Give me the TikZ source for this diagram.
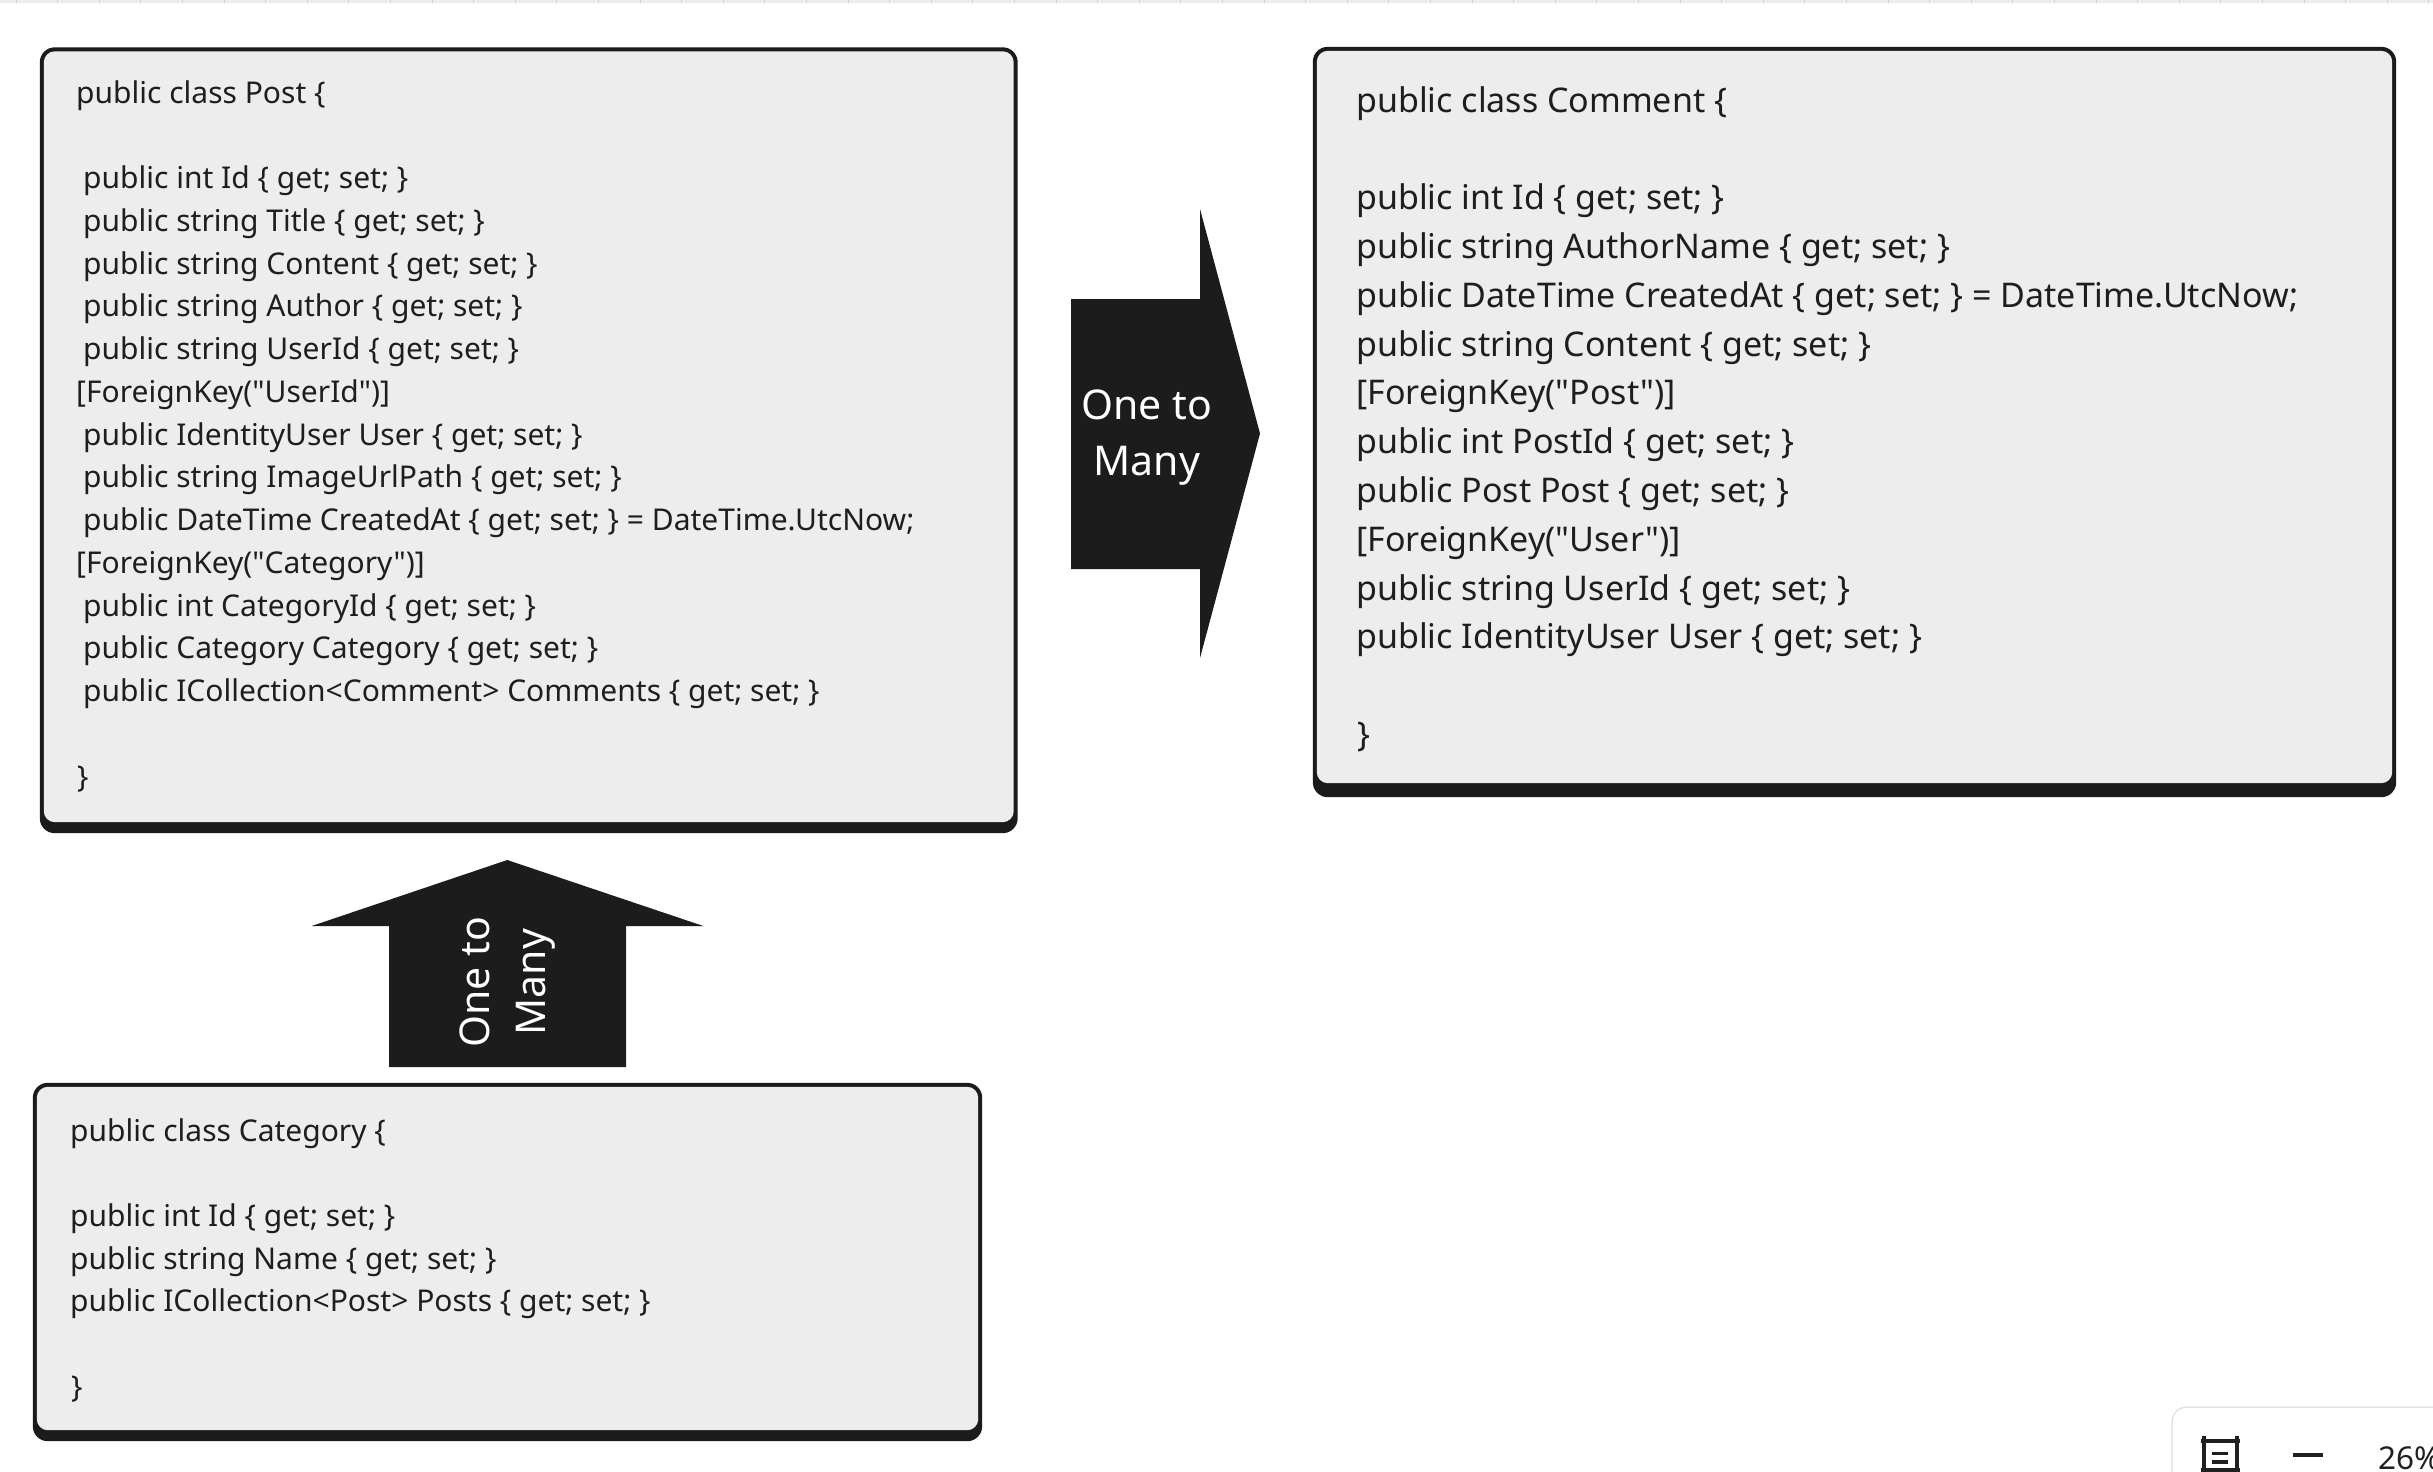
\documentclass[tikz,border=0pt]{standalone}
\usepackage{fontspec}
\setmainfont{Noto Sans}[Ligatures=TeXOff]
\definecolor{boxfill}{HTML}{EDEDED}
\definecolor{boxborder}{HTML}{1B1B1B}
\definecolor{arrowfill}{HTML}{1C1C1C}
\definecolor{codetext}{HTML}{1E1E1E}
\definecolor{rulerfill}{HTML}{EEEEEE}
\definecolor{rulertick}{HTML}{D2D2D2}
\definecolor{panelborder}{HTML}{E4E4E4}
\definecolor{icon}{HTML}{202020}
\newcommand\dq{\char34\relax}
\tikzset{
  boxnode/.style={shape=rectangle, draw=none, inner sep=0pt},
  code/.style={anchor=base west, inner sep=0pt, text=codetext},
  postline/.style={code, font=\fontsize{30}{36}\selectfont},
  commentline/.style={code, font=\fontsize{34}{40}\selectfont},
  catline/.style={code, font=\fontsize{30}{36}\selectfont},
  arrowlabel/.style={text=white, align=center, inner sep=0pt, font=\fontsize{41}{56}\selectfont},
  arrowshape/.style={fill=arrowfill, draw=none},
  iconline/.style={draw=icon, line width=3.8pt},
}
\newcommand\classbox[2]{% name, bottom shadow thickness
  \fill[boxborder, rounded corners=15pt] (#1.north west) rectangle (#1.south east);
  \fill[boxfill, rounded corners=11pt] ([xshift=4pt,yshift=-4pt]#1.north west) rectangle ([xshift=-4pt,yshift=#2]#1.south east);
}
\begin{document}
\begin{tikzpicture}[x=1pt,y=-1pt]
\useasboundingbox (0,0) rectangle (2433,1472);
\clip (0,0) rectangle (2433,1472);
\fill[white] (0,0) rectangle (2433,1472);

% top ruler
\fill[rulerfill] (0,0) rectangle (2433,3.5);
\foreach \i in {0,...,58} {
  \draw[rulertick, line width=1pt] ({16.1+41.6*\i},0) -- ({16.1+41.6*\i},3.5);
}

% class boxes
\node[boxnode, minimum width=977.5pt, minimum height=785.5pt] (post) at (528.75,440.25) {};
\node[boxnode, minimum width=1083pt, minimum height=750pt] (comment) at (1854.5,422) {};
\node[boxnode, minimum width=949pt, minimum height=358pt] (category) at (507.5,1262) {};
\classbox{post}{11pt}
\classbox{comment}{14pt}
\classbox{category}{11pt}

% Post text
\def\pb{103}\def\ps{42.75}
\node[postline] (p0) at (76,{\pb+0*\ps}) {public class Post \{};
\node[postline] (p2) at (83,{\pb+2*\ps}) {public int Id \{ get; set; \}};
\node[postline] (p3) at (83,{\pb+3*\ps}) {public string Title \{ get; set; \}};
\node[postline] (p4) at (83,{\pb+4*\ps}) {public string Content \{ get; set; \}};
\node[postline] (p5) at (83,{\pb+5*\ps}) {public string Author \{ get; set; \}};
\node[postline] (p6) at (83,{\pb+6*\ps}) {public string UserId \{ get; set; \}};
\node[postline] (p7) at (76,{\pb+7*\ps}) {[ForeignKey(\dq UserId\dq)]};
\node[postline] (p8) at (83,{\pb+8*\ps}) {public IdentityUser User \{ get; set; \}};
\node[postline] (p9) at (83,{\pb+9*\ps}) {public string ImageUrlPath \{ get; set; \}};
\node[postline] (p10) at (83,{\pb+10*\ps}) {public DateTime CreatedAt \{ get; set; \} = DateTime.UtcNow;};
\node[postline] (p11) at (76,{\pb+11*\ps}) {[ForeignKey(\dq Category\dq)]};
\node[postline] (p12) at (83,{\pb+12*\ps}) {public int CategoryId \{ get; set; \}};
\node[postline] (p13) at (83,{\pb+13*\ps}) {public Category Category \{ get; set; \}};
\node[postline] (p14) at (83,{\pb+14*\ps}) {public ICollection<Comment> Comments \{ get; set; \}};
\node[postline] (p16) at (77,{\pb+16*\ps}) {\}};

% Comment text
\def\cb{112}\def\cs{48.8}
\node[commentline] (c0) at (1356,{\cb+0*\cs}) {public class Comment \{};
\node[commentline] (c2) at (1356,{\cb+2*\cs}) {public int Id \{ get; set; \}};
\node[commentline] (c3) at (1356,{\cb+3*\cs}) {public string AuthorName \{ get; set; \}};
\node[commentline] (c4) at (1356,{\cb+4*\cs}) {public DateTime CreatedAt \{ get; set; \} = DateTime.UtcNow;};
\node[commentline] (c5) at (1356,{\cb+5*\cs}) {public string Content \{ get; set; \}};
\node[commentline] (c6) at (1356,{\cb+6*\cs}) {[ForeignKey(\dq Post\dq)]};
\node[commentline] (c7) at (1356,{\cb+7*\cs}) {public int PostId \{ get; set; \}};
\node[commentline] (c8) at (1356,{\cb+8*\cs}) {public Post Post \{ get; set; \}};
\node[commentline] (c9) at (1356,{\cb+9*\cs}) {[ForeignKey(\dq User\dq)]};
\node[commentline] (c10) at (1356,{\cb+10*\cs}) {public string UserId \{ get; set; \}};
\node[commentline] (c11) at (1356,{\cb+11*\cs}) {public IdentityUser User \{ get; set; \}};
\node[commentline] (c13) at (1357,{\cb+13*\cs}) {\}};

% Category text
\def\kb{1141.5}\def\ks{42.6}
\node[catline] (k0) at (70,{\kb+0*\ks}) {public class Category \{};
\node[catline] (k2) at (70,{\kb+2*\ks}) {public int Id \{ get; set; \}};
\node[catline] (k3) at (70,{\kb+3*\ks}) {public string Name \{ get; set; \}};
\node[catline] (k4) at (70,{\kb+4*\ks}) {public ICollection<Post> Posts \{ get; set; \}};
\node[catline] (k6) at (71,{\kb+6*\ks}) {\}};

% relationship arrows
\fill[arrowshape] (1071,299) -- (1200,299) -- (1200,209) -- (1260,433.5) -- (1200,658) -- (1200,569) -- (1071,569) -- cycle;
\node[arrowlabel] (rel1) at (1147,438) {One to\\Many};

\fill[arrowshape] (389,1067) -- (389,926) -- (311.7,926) -- (507.3,860) -- (703.3,926) -- (626,926) -- (626,1067) -- cycle;
\node[arrowlabel, rotate=90] (rel2) at (508,982) {One to\\Many};

% bottom-right zoom panel
\draw[panelborder, line width=1.5pt, fill=white, rounded corners=15pt] (2172,1407) rectangle (2480,1520);
\draw[iconline] (2203.7,1436) -- (2203.7,1472);
\draw[iconline] (2237,1436) -- (2237,1472);
\draw[iconline] (2200.5,1441) -- (2240.3,1441);
\draw[iconline] (2200.5,1470) -- (2240.3,1470);
\draw[iconline] (2211.7,1453.4) -- (2228.3,1453.4);
\draw[iconline] (2211.7,1461.7) -- (2228.3,1461.7);
\draw[iconline] (2292.7,1455.3) -- (2323.3,1455.3);
\node[anchor=base west, inner sep=0pt, text=icon, font=\fontsize{31.5}{36}\selectfont\bfseries] (zoomlevel) at (2378,1469) {26\%};
\end{tikzpicture}
\end{document}
